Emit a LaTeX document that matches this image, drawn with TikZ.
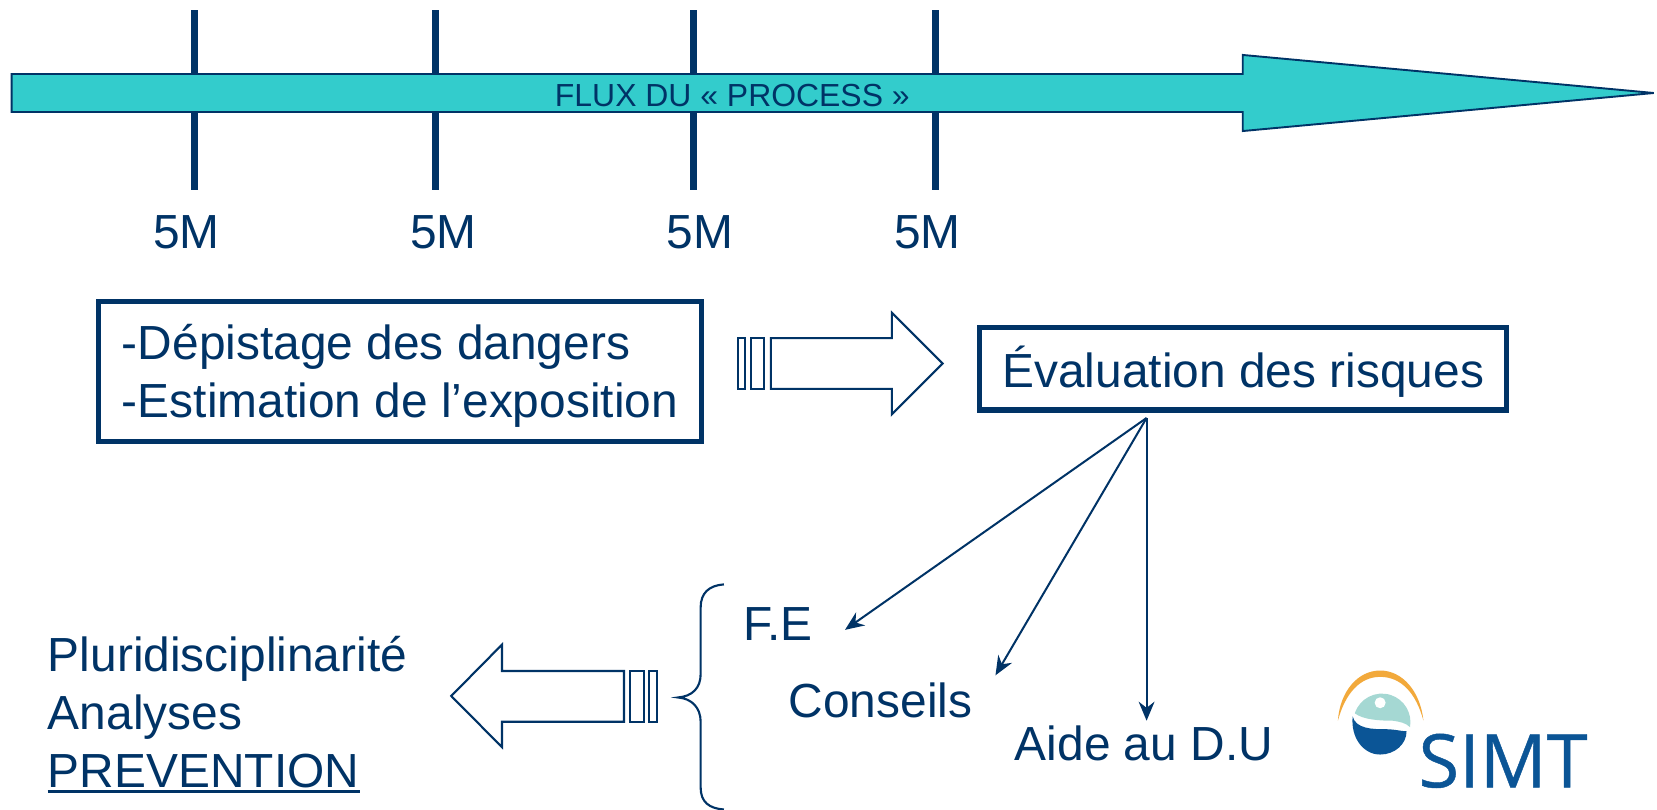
\documentclass[tikz,border=0pt]{standalone}
\usepackage{fontspec}
\setmainfont{Liberation Sans}
\newfontfamily\logofont[FakeBold=0.6]{Open Sans}
\usetikzlibrary{arrows.meta,calc}
\definecolor{navy}{HTML}{003366}
\definecolor{flux}{HTML}{33CCCC}
\definecolor{logoblue}{HTML}{0B5596}
\definecolor{logoteal}{HTML}{A5D8D3}
\definecolor{logoorange}{HTML}{F2A93B}
\tikzset{
  tick/.style={draw=navy,line width=3.4pt},
  box/.style={draw=navy,line width=2.4pt,inner sep=0pt,text=navy,font=\fontsize{22.65}{27.5}\selectfont},
  txt/.style={text=navy,inner sep=0pt,anchor=base west,font=\fontsize{22.65}{27.5}\selectfont},
  hollow/.style={draw=navy,line width=1pt,fill=white,line join=miter},
  link/.style={draw=navy,line width=0.95pt,-{Stealth[length=9pt,width=7.5pt]}},
}
\begin{document}
\begin{tikzpicture}[x=0.5pt,y=-0.5pt]
\useasboundingbox[fill=white] (0,0) rectangle (1568,766);
% ticks
\coordinate (t1a) at (184,9.5); \coordinate (t1b) at (184,180);
\coordinate (t2a) at (412,9.5); \coordinate (t2b) at (412,180);
\coordinate (t3a) at (656,9.5); \coordinate (t3b) at (656,180);
\coordinate (t4a) at (885,9.5); \coordinate (t4b) at (885,180);
\draw[tick] (t1a)--(t1b); \draw[tick] (t2a)--(t2b); \draw[tick] (t3a)--(t3b); \draw[tick] (t4a)--(t4b);
% flux arrow
\draw[draw=navy,fill=flux,line width=0.9pt,line join=miter]
  (11,70)--(1176,70)--(1176,52)--(1565,88)--(1176,124)--(1176,106)--(11,106)--cycle;
\node[text=navy,inner sep=0pt,anchor=base,font=\fontsize{15.1}{18}\selectfont] (flux) at (693,101) {FLUX DU « PROCESS »};
% 5M
\node[txt,anchor=base] (m1) at (176.5,235) {5M};
\node[txt,anchor=base] (m2) at (419.5,235) {5M};
\node[txt,anchor=base] (m3) at (662.5,235) {5M};
\node[txt,anchor=base] (m4) at (877.5,235) {5M};
% boxes
\node[box,minimum width=285.5pt,minimum height=66.5pt] (b1) at (378.5,351.5)
  {\raisebox{-2.5pt}[\height][\depth]{\begin{tabular}{@{}l@{}}-Dépistage des dangers\\-Estimation de l’exposition\end{tabular}}};
\node[box,minimum width=249.5pt,minimum height=39pt] (b2) at (1176.5,349)
  {\raisebox{-1.5pt}[\height][\depth]{Évaluation des risques}};
% hollow right arrow
\draw[hollow] (729.5,320)--(844,320)--(844,296)--(892,344)--(844,392)--(844,368)--(729.5,368)--cycle;
\draw[hollow] (698,320) rectangle (705,368);
\draw[hollow] (711,320) rectangle (723,368);
% hollow left arrow
\draw[hollow] (590.5,635)--(475,635)--(475,610)--(427,658.6)--(475,707)--(475,683)--(590.5,683)--cycle;
\draw[hollow] (596,635) rectangle (609,683);
\draw[hollow] (614,635) rectangle (621.5,683);
% brace
\draw[draw=navy,line width=1pt] (685,553) .. controls (671,554) and (663,561) .. (663,575)
  -- (663,638) .. controls (663,651) and (655,659) .. (641.5,660)
  .. controls (655,661) and (663,670) .. (663,683)
  -- (663,745) .. controls (663,759) and (671,765) .. (685,766);
% lower text
\node[txt] (fe) at (703,606) {F.E};
\node[txt] (cons) at (746,679) {Conseils};
\node[txt] (aide) at (960,720) {Aide au D.U};
\node[txt] (p1) at (45,635) {Pluridisciplinarité};
\node[txt] (p2) at (45,690) {Analyses};
\node[txt] (p3) at (45,745) {PREVENTION};
\draw[navy,line width=1pt] ($(p3.base west)+(0,4)$)--($(p3.base east)+(0,4)$);
% connectors
\coordinate (src) at (1085,395.5);
\coordinate (e1) at (799.6,596);
\coordinate (e2) at (942,639);
\coordinate (e3) at (1085,682);
\draw[link] (src)--(e1);
\draw[link] (src)--(e2);
\draw[link] (src)--(e3);
% logo
\fill[logoorange] (1266,682) .. controls (1268,654) and (1285,634.5) .. (1306,634.5) .. controls (1327,634.5) and (1344,654) .. (1347,682)
  .. controls (1340,656) and (1326,640.5) .. (1306,640.5) .. controls (1287,640.5) and (1273,656) .. (1266,682) -- cycle;
\fill[logoteal] (1282,675) arc[start angle=198,end angle=370,radius=27] .. controls (1330,684) and (1325,683) .. (1318,682) .. controls (1305,682) and (1290,681) .. (1282,675) -- cycle;
\fill[white] (1306,665) circle (5.2);
\fill[logoblue] (1280,678) .. controls (1283,690) and (1300,690) .. (1310,690) .. controls (1320,690) and (1326,692) .. (1331,692) .. controls (1331,704) and (1320,714) .. (1306,714) .. controls (1290,714) and (1278,698) .. (1280,678) -- cycle;
\node[text=logoblue,inner sep=0pt,anchor=base west,font=\logofont\fontsize{35}{40}\selectfont] (simt) at (1342,745) {SIMT};
\end{tikzpicture}
\end{document}
